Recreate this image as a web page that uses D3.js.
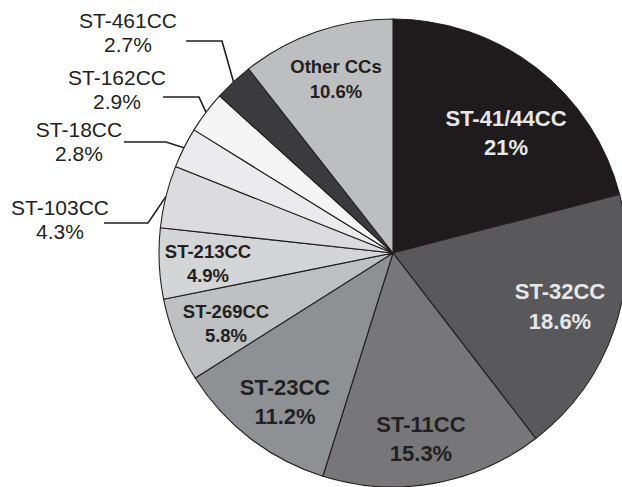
<!DOCTYPE html>
<html><head><meta charset="utf-8">
<script src="https://cdn.jsdelivr.net/npm/d3@7"></script>
<style>
html,body{margin:0;padding:0;background:#fff;}
svg{display:block;font-family:"Liberation Sans",Arial,Helvetica,sans-serif;}
</style></head>
<body>
<svg id="chart" width="622" height="487"></svg>
<script>
// Data (clockwise from 12 o'clock)
const categories = ["ST-41/44CC","ST-32CC","ST-11CC","ST-23CC","ST-269CC","ST-213CC","ST-103CC","ST-18CC","ST-162CC","ST-461CC","Other CCs"];
const percentages = [21, 18.6, 15.3, 11.2, 5.8, 4.9, 4.3, 2.8, 2.9, 2.7, 10.6];
const percentLabels = ["21%","18.6%","15.3%","11.2%","5.8%","4.9%","4.3%","2.8%","2.9%","2.7%","10.6%"];

// Styles / layout (not data)
const fills = ["#1f1b1c","#59595b","#77777a","#8f9093","#bfc0c2","#d4d5d7","#dcdcde","#ebebed","#f5f5f6","#3b3b3d","#bdbec0"];
// inside label: [x, baseline1, baseline2, fontSize, color]
const insideLayout = {
  "ST-41/44CC": [506,126,155,22,"#e6e7e8"],
  "ST-32CC":    [560,299,329,22,"#e6e7e8"],
  "ST-11CC":    [421,432,461,22,"#231f20"],
  "ST-23CC":    [285,395,424,22,"#231f20"],
  "ST-269CC":   [226,318,342,18.5,"#231f20"],
  "ST-213CC":   [208,258,282,18.5,"#231f20"],
  "Other CCs":  [336,73,98,18.5,"#231f20"]
};
// outside label: [textCenterX, baseline1, baseline2, elbowX, elbowY, lineStartX]
const outsideLayout = {
  "ST-461CC": [128,28,52,222,41,186],
  "ST-162CC": [117,85,109,199,97,163],
  "ST-18CC":  [79,137,161,166,142,124],
  "ST-103CC": [60,215,239,148,223,104]
};

const cx = 393, cy = 253, R = 234;
const svg = d3.select("#chart");
const g = svg.append("g").attr("transform", `translate(${cx},${cy})`);

const pie = d3.pie().sort(null).value(d => d.v);
const data = categories.map((c,i) => ({c, v: percentages[i], p: percentLabels[i], fill: fills[i]}));
const arcs = pie(data);
const arc = d3.arc().innerRadius(0).outerRadius(R);

g.selectAll("path.slice").data(arcs).enter().append("path")
  .attr("class","slice")
  .attr("d", arc)
  .attr("fill", d => d.data.fill)
  .attr("stroke", "#231f20")
  .attr("stroke-width", 1.1)
  .attr("stroke-linejoin","round");

// inside labels
arcs.forEach(a => {
  const L = insideLayout[a.data.c];
  if (!L) return;
  const [x,b1,b2,fs,col] = L;
  const t = svg.append("text").attr("text-anchor","middle").attr("font-weight","bold")
    .attr("font-size", fs).attr("fill", col);
  t.append("tspan").attr("x", x).attr("y", b1).text(a.data.c);
  t.append("tspan").attr("x", x).attr("y", b2).text(a.data.p);
});

// outside labels with leader lines
arcs.forEach(a => {
  const L = outsideLayout[a.data.c];
  if (!L) return;
  const [x,b1,b2,ex,ey,sx] = L;
  const mid = (a.startAngle + a.endAngle)/2;
  const px = cx + R*Math.sin(mid), py = cy - R*Math.cos(mid);
  svg.append("polyline")
    .attr("points", `${sx},${ey} ${ex},${ey} ${px},${py}`)
    .attr("fill","none").attr("stroke","#231f20").attr("stroke-width",1.6);
  const t = svg.append("text").attr("text-anchor","middle")
    .attr("font-size", 21).attr("fill", "#231f20");
  t.append("tspan").attr("x", x).attr("y", b1).text(a.data.c);
  t.append("tspan").attr("x", x).attr("y", b2).text(a.data.p);
});
</script>
</body></html>
